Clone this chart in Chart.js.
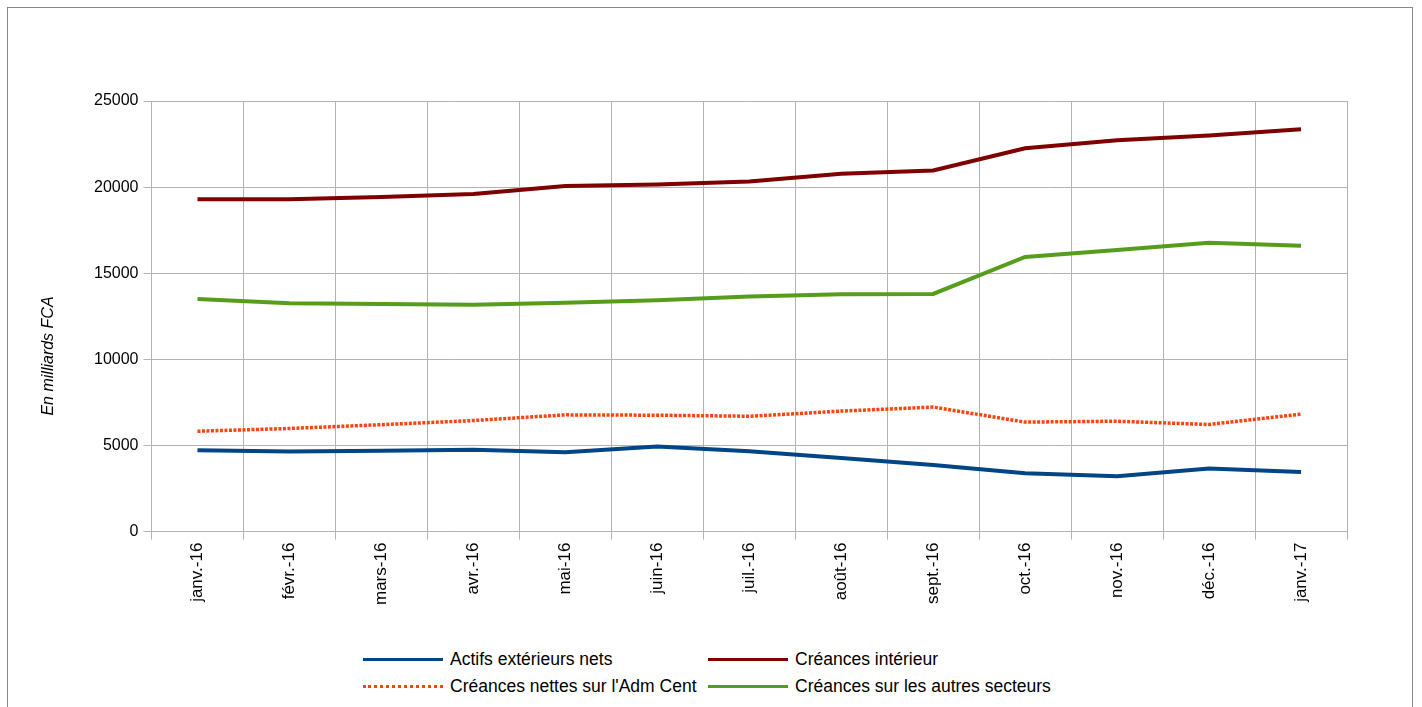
<!DOCTYPE html>
<html>
<head>
<meta charset="utf-8">
<script src="https://cdn.jsdelivr.net/npm/chart.js@4"></script>
<style>
  body { margin: 0; background: #fff; font-family: "Liberation Sans", Arial, sans-serif; }
  #frame { position: absolute; left: 7px; top: 7px; width: 1406px; height: 720px; border: 1px solid #888; box-sizing: border-box; }
  #wrap { position: absolute; left: 0; top: 0; width: 1404px; height: 620px; }
  #legend { position: absolute; left: 355px; top: 641px; display: grid; grid-template-columns: 345px 360px; row-gap: 7px; font-size: 17.5px; color: #000; }
  .item { display: flex; align-items: center; height: 20px; }
  .swatch { width: 80px; height: 0; margin-right: 7px; }
</style>
</head>
<body>
<div id="frame">
  <div id="wrap"><canvas id="myChart"></canvas></div>
  <div id="legend"></div>
</div>
<script>
const months = ['janv.-16','févr.-16','mars-16','avr.-16','mai-16','juin-16','juil.-16','août-16','sept.-16','oct.-16','nov.-16','déc.-16','janv.-17'];
const actifsExt = [4730,4650,4690,4760,4610,4940,4670,4280,3870,3390,3215,3660,3470];
const creancesInt = [19290,19300,19420,19600,20060,20150,20330,20780,20970,22260,22720,23000,23360];
const creancesAdm = [5830,5990,6210,6450,6780,6760,6700,7000,7230,6360,6410,6220,6820];
const creancesAutres = [13500,13260,13210,13170,13290,13430,13650,13780,13800,15950,16350,16770,16590];
const yTicks = [0,5000,10000,15000,20000,25000];

const series = [
  { label: 'Actifs extérieurs nets', data: actifsExt, color: '#004586', dash: [] },
  { label: 'Créances intérieur', data: creancesInt, color: '#7f0000', dash: [] },
  { label: "Créances nettes sur l'Adm Cent", data: creancesAdm, color: '#ff420e', dash: [3, 1.5] },
  { label: 'Créances sur les autres secteurs', data: creancesAutres, color: '#579d1c', dash: [] }
];

// y title drawn by hand so it sits where the original has it
const yTitle = {
  id: 'yTitle',
  afterDraw(chart) {
    const c = chart.ctx;
    c.save();
    c.translate(41, 348);
    c.rotate(-Math.PI / 2);
    c.font = 'italic 16px "Liberation Sans", Arial, sans-serif';
    c.fillStyle = '#000';
    c.textAlign = 'center';
    c.textBaseline = 'middle';
    c.fillText('En milliards FCA', 0, 0);
    c.restore();
  }
};

const ctx = document.getElementById('myChart').getContext('2d');
const chart = new Chart(ctx, {
  type: 'line',
  data: {
    labels: months,
    datasets: series.map(s => ({
      label: s.label,
      data: s.data,
      borderColor: s.color,
      backgroundColor: s.color,
      borderWidth: s.dash.length ? 3.5 : 4,
      borderDash: s.dash,
      pointRadius: 0,
      tension: 0,
      fill: false
    }))
  },
  options: {
    responsive: true,
    maintainAspectRatio: false,
    animation: false,
    layout: { padding: { left: 81, right: 65, top: 93, bottom: 20 } },
    plugins: { legend: { display: false }, tooltip: { enabled: false } },
    scales: {
      x: {
        offset: true,
        grid: { offset: true, color: '#b3b3b3', tickLength: 8 },
        border: { color: '#b3b3b3' },
        ticks: { color: '#000', font: { size: 17, family: '"Liberation Sans", Arial' }, maxRotation: 90, minRotation: 90, padding: 3 }
      },
      y: {
        min: 0,
        max: 25000,
        afterBuildTicks: axis => { axis.ticks = yTicks.map(v => ({ value: v })); },
        grid: { color: '#b3b3b3', tickLength: 8 },
        border: { color: '#b3b3b3' },
        ticks: { color: '#000', font: { size: 16, family: '"Liberation Sans", Arial' }, padding: 5, callback: v => String(v) }
      }
    }
  },
  plugins: [yTitle]
});

// legend in two columns like the original
const leg = document.getElementById('legend');
series.forEach(s => {
  const d = document.createElement('div');
  d.className = 'item';
  const sw = document.createElement('span');
  sw.className = 'swatch';
  sw.style.borderTop = s.dash.length ? '3px dotted ' + s.color : '3px solid ' + s.color;
  d.appendChild(sw);
  d.appendChild(document.createTextNode(s.label));
  leg.appendChild(d);
});
</script>
</body>
</html>
